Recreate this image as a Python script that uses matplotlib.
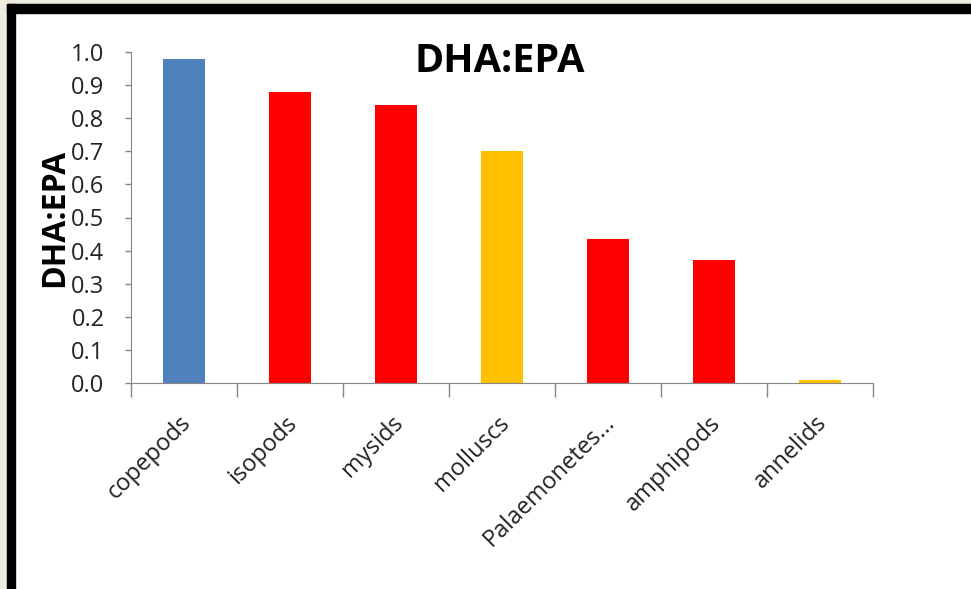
import matplotlib
matplotlib.use('Agg')
import matplotlib.pyplot as plt
import matplotlib.patches as patches
import matplotlib.transforms as mtransforms
import numpy as np

# dane: stosunek DHA:EPA dla grup pokarmowych
categories = ['copepods', 'isopods', 'mysids', 'molluscs', 'Palaemonetes...', 'amphipods', 'annelids']
values = [0.98, 0.88, 0.84, 0.70, 0.435, 0.372, 0.009]
bar_colors = ['#4F81BD', '#FF0000', '#FF0000', '#FFC000', '#FF0000', '#FF0000', '#FFC000']
yticks = [0.0, 0.1, 0.2, 0.3, 0.4, 0.5, 0.6, 0.7, 0.8, 0.9, 1.0]

W, H = 971, 589
fig = plt.figure(figsize=(W / 100, H / 100), dpi=100, facecolor='white')
font = ['Open Sans', 'DejaVu Sans']

# ramka okna: beżowy brzeg i czarny pas u góry i z lewej
def px_rect(x0, y0, w, h, color):
    fig.patches.append(patches.Rectangle((x0 / W, 1 - (y0 + h) / H), w / W, h / H,
                                         transform=fig.transFigure, color=color, zorder=0))

px_rect(0, 0, W, 4, '#EEEBE0')
px_rect(0, 0, 7, H, '#EEEBE0')
px_rect(7, 4, W - 7, 9, 'black')
px_rect(7, 4, 8, H - 4, 'black')

ax = fig.add_axes([131 / W, 206 / H, (873 - 131) / W, (383 - 52) / H])
x = np.arange(len(categories))
ax.bar(x, values, width=0.4, color=bar_colors, zorder=2)

ax.set_xlim(-0.5, len(categories) - 0.5)
ax.set_ylim(0, 1.0)
ax.set_yticks(yticks)
ax.set_yticklabels(['%.1f' % v for v in yticks], fontsize=17, family=font, color='#222222')
ax.set_xticks(x)
ax.set_xticklabels(categories, rotation=45, ha='right', va='top', rotation_mode='anchor',
                   fontsize=17, family=font, color='#222222')
ax.tick_params(axis='x', which='major', length=0, pad=20)
ax.set_xticks(np.arange(-0.5, len(categories)), minor=True)
ax.tick_params(axis='x', which='minor', length=10, color='#868686', width=1)
ax.tick_params(axis='y', length=4, color='#868686', width=1, pad=15)

# lekkie przesunięcie podpisów kategorii w lewo
shift = mtransforms.ScaledTranslation(-5 / 100, 0, fig.dpi_scale_trans)
for lbl in ax.get_xticklabels():
    lbl.set_transform(lbl.get_transform() + shift)

for side in ['top', 'right']:
    ax.spines[side].set_visible(False)
for side in ['left', 'bottom']:
    ax.spines[side].set_color('#868686')

ax.set_ylabel('DHA:EPA', fontsize=23, fontweight='bold', family=font, labelpad=0)
fig.text(500 / W, 1 - 62 / H, 'DHA:EPA', fontsize=28.5, fontweight='bold',
         family=font, ha='center', va='center')

fig.savefig('out.png', dpi=100)
